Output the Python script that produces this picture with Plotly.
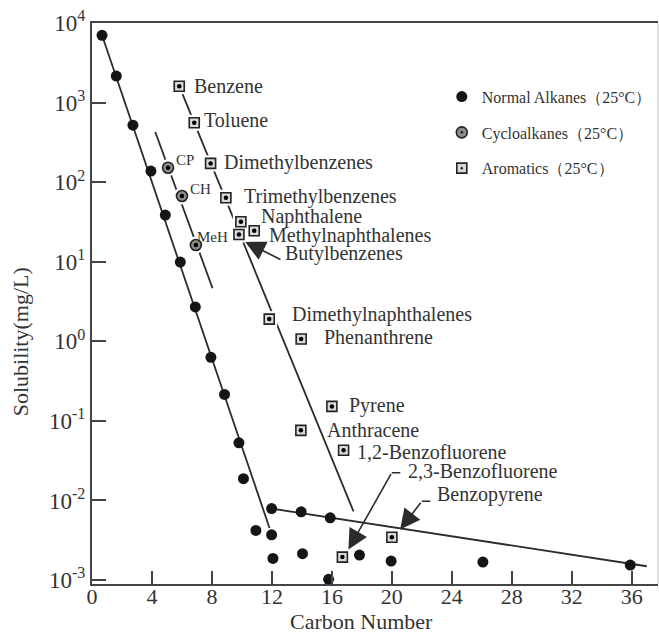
import numpy as np
import plotly.graph_objects as go

# ---- Data -------------------------------------------------------------
# Normal alkanes (25 °C)
alkane_c = [0.67, 1.62, 2.73, 3.93, 4.89, 5.89, 6.89, 7.93, 8.84, 9.80, 10.10,
            10.93, 11.98, 11.98, 12.07, 13.95, 14.04, 15.89, 15.78, 17.84,
            19.95, 26.07, 35.90]
alkane_s = [7000, 2150, 520, 138, 38.6, 9.9, 2.7, 0.63, 0.215, 0.053, 0.0188,
            0.0042, 0.0037, 0.0079, 0.00187, 0.0072, 0.00214, 0.00605, 0.00102,
            0.00206, 0.00173, 0.00168, 0.00154]

# Cycloalkanes (25 °C)
cyclo_names = ["CP", "CH", "MeH"]
cyclo_c = [5.07, 6.00, 6.93]
cyclo_s = [152, 67, 16.2]

# Aromatics (25 °C)
arom_names = ["Benzene", "Toluene", "Dimethylbenzenes", "Trimethylbenzenes",
              "Naphthalene", "Methylnaphthalenes", "Butylbenzenes",
              "Dimethylnaphthalenes", "Phenanthrene", "Anthracene", "Pyrene",
              "1,2-Benzofluorene", "2,3-Benzofluorene", "Benzopyrene"]
arom_c = [5.82, 6.82, 7.91, 8.93, 9.93, 10.82, 9.80, 11.82, 13.95, 13.93,
          16.00, 16.78, 16.70, 20.00]
arom_s = [1607, 557, 172, 63.7, 31.8, 24.5, 22.0, 1.9, 1.07, 0.076, 0.152,
          0.0427, 0.00194, 0.00345]

# Trend lines (end points)
alkane_fit_c = [0.67, 11.84]
alkane_fit_s = [7000, 0.0045]
alkane_tail_c = [11.98, 37.0]
alkane_tail_s = [0.0079, 0.00149]
cyclo_fit_c = [4.22, 8.04]
cyclo_fit_s = [427, 4.65]
arom_fit_c = [5.82, 17.44]
arom_fit_s = [1610, 0.0073]

# Axis ticks
x_ticks = [0, 4, 8, 12, 16, 20, 24, 28, 32, 36]
y_exponents = [-3, -2, -1, 0, 1, 2, 3, 4]
y_tick_vals = [10.0 ** e for e in y_exponents]
y_tick_text = [f"10<sup>{e}</sup>" for e in y_exponents]

# ---- Styling ----------------------------------------------------------
SERIF = "Liberation Serif, Times New Roman, serif"
INK = "#2b2b2b"
TEXT = "#333333"

# label offsets in pixels from each marker (dx right, dy up)
arom_label_offsets = {
    "Benzene": (12.7, 0), "Toluene": (7.7, 2.7), "Dimethylbenzenes": (11.4, 1),
    "Trimethylbenzenes": (16, 1), "Naphthalene": (18.3, 5.7),
    "Methylnaphthalenes": (12.7, -4.3), "Butylbenzenes": (44.3, -18.7),
    "Dimethylnaphthalenes": (20.3, 4.3), "Phenanthrene": (20.7, 1.7),
    "Anthracene": (24.3, 0.7), "Pyrene": (15, 0.7),
    "1,2-Benzofluorene": (11.7, -1.6), "2,3-Benzofluorene": (63.7, 85.7),
    "Benzopyrene": (43.3, 42.7),
}
cyclo_label_offsets = {"CP": (6.3, 7.7), "CH": (5.6, 7.4), "MeH": (-0.7, 8.3)}

fig = go.Figure()

# trend lines
for xs, ys in [(alkane_fit_c, alkane_fit_s), (alkane_tail_c, alkane_tail_s),
               (cyclo_fit_c, cyclo_fit_s), (arom_fit_c, arom_fit_s)]:
    fig.add_trace(go.Scatter(x=xs, y=ys, mode="lines",
                             line=dict(color=INK, width=1.8),
                             showlegend=False, hoverinfo="skip"))

# white halos so the lines stop short of the open markers
fig.add_trace(go.Scatter(x=cyclo_c, y=cyclo_s, mode="markers",
                         marker=dict(symbol="circle", size=17, color="white"),
                         showlegend=False, hoverinfo="skip", cliponaxis=False))
fig.add_trace(go.Scatter(x=arom_c, y=arom_s, mode="markers",
                         marker=dict(symbol="square", size=16, color="white"),
                         showlegend=False, hoverinfo="skip", cliponaxis=False))

# normal alkanes
fig.add_trace(go.Scatter(x=alkane_c, y=alkane_s, mode="markers",
                         name="Normal Alkanes（25°C）", legendgroup="a",
                         marker=dict(symbol="circle", size=11, color="#151515"),
                         cliponaxis=False))
# cycloalkanes
fig.add_trace(go.Scatter(x=cyclo_c, y=cyclo_s, mode="markers",
                         name="Cycloalkanes（25°C）", legendgroup="b",
                         marker=dict(symbol="circle-dot", size=11, color="#8c8c8c",
                                     line=dict(color="#222", width=1.6)),
                         cliponaxis=False))
fig.add_trace(go.Scatter(x=cyclo_c, y=cyclo_s, mode="markers", legendgroup="b",
                         marker=dict(symbol="circle", size=4.5, color="#000"),
                         showlegend=False, hoverinfo="skip", cliponaxis=False))
# aromatics
fig.add_trace(go.Scatter(x=arom_c, y=arom_s, mode="markers",
                         name="Aromatics（25°C）", legendgroup="c",
                         marker=dict(symbol="square-dot", size=10, color="#d9d9d9",
                                     line=dict(color="#222", width=1.6)),
                         cliponaxis=False))
fig.add_trace(go.Scatter(x=arom_c, y=arom_s, mode="markers", legendgroup="c",
                         marker=dict(symbol="circle", size=4.5, color="#000"),
                         showlegend=False, hoverinfo="skip", cliponaxis=False))

annotations = []
for name, c, s in zip(arom_names, arom_c, arom_s):
    dx, dy = arom_label_offsets[name]
    annotations.append(dict(x=c, y=np.log10(s), xref="x", yref="y", text=name,
                            showarrow=False, xanchor="left", yanchor="middle",
                            xshift=dx, yshift=dy,
                            font=dict(family=SERIF, size=20, color=TEXT)))
for name, c, s in zip(cyclo_names, cyclo_c, cyclo_s):
    dx, dy = cyclo_label_offsets[name]
    annotations.append(dict(x=c, y=np.log10(s), xref="x", yref="y", text=name,
                            showarrow=False, xanchor="left", yanchor="middle",
                            xshift=dx, yshift=dy,
                            font=dict(family=SERIF, size=15, color=TEXT)))

# pointer arrows: (target, tip shift dx, dy, tail ax, ay, with head)
arrow_specs = [
    ("Butylbenzenes", 6.3, -7.4, 36.7, 18.3, True),
    ("2,3-Benzofluorene", 6.0, 7.7, 43.4, -76.7, True),
    ("2,3-Benzofluorene", 49.4, 84.4, 10, 0, False),
    ("Benzopyrene", 8.3, 7.7, 21.7, -28.3, True),
    ("Benzopyrene", 30.0, 36.0, 10, 0, False),
]
for name, dx, dy, ax, ay, head in arrow_specs:
    i = arom_names.index(name)
    annotations.append(dict(x=arom_c[i], y=np.log10(arom_s[i]), xref="x", yref="y",
                            text="", showarrow=True, ax=ax, ay=ay,
                            xshift=dx, yshift=dy,
                            arrowhead=2 if head else 0, arrowsize=2.5,
                            arrowwidth=1.6, arrowcolor=INK, standoff=0,
                            startstandoff=0))

# axis titles
annotations.append(dict(x=0.477, y=-0.0927, xref="paper", yref="paper",
                        xanchor="center", yanchor="bottom",
                        text="Carbon Number", showarrow=False,
                        font=dict(family=SERIF, size=22, color=TEXT)))
annotations.append(dict(x=-0.127, y=0.431, xref="paper", yref="paper",
                        xanchor="center", yanchor="middle",
                        text="Solubility(mg/L)", showarrow=False, textangle=-90,
                        font=dict(family=SERIF, size=22, color=TEXT)))

fig.update_layout(
    width=659, height=633,
    margin=dict(l=92, r=1, t=23, b=49),
    paper_bgcolor="white", plot_bgcolor="white",
    annotations=annotations,
    shapes=[dict(type="line", xref="paper", yref="paper", x0=1, x1=1, y0=0, y1=1,
                 line=dict(color="#d8d8d8", width=1.5))],
    legend=dict(x=0.618, y=0.899, xanchor="left", yanchor="top",
                traceorder="grouped", tracegroupgap=12,
                bgcolor="rgba(0,0,0,0)",
                font=dict(family=SERIF, size=16, color=TEXT)),
    xaxis=dict(range=[0, 37.75], tickvals=x_ticks, ticks="inside", ticklen=13,
               tickwidth=2, tickcolor="#444", showline=True, linewidth=2,
               linecolor="#444", mirror=True, showgrid=False, zeroline=False,
               ticklabelstandoff=-8,
               tickfont=dict(family=SERIF, size=22, color=TEXT)),
    yaxis=dict(type="log", range=[-3.05, 4.0], tickvals=y_tick_vals,
               ticktext=y_tick_text, ticks="inside", ticklen=14, tickwidth=2,
               tickcolor="#444", showline=True, linewidth=2, linecolor="#444",
               showgrid=False, zeroline=False,
               tickfont=dict(family=SERIF, size=23, color=TEXT)),
)

fig.write_html("out.html")
